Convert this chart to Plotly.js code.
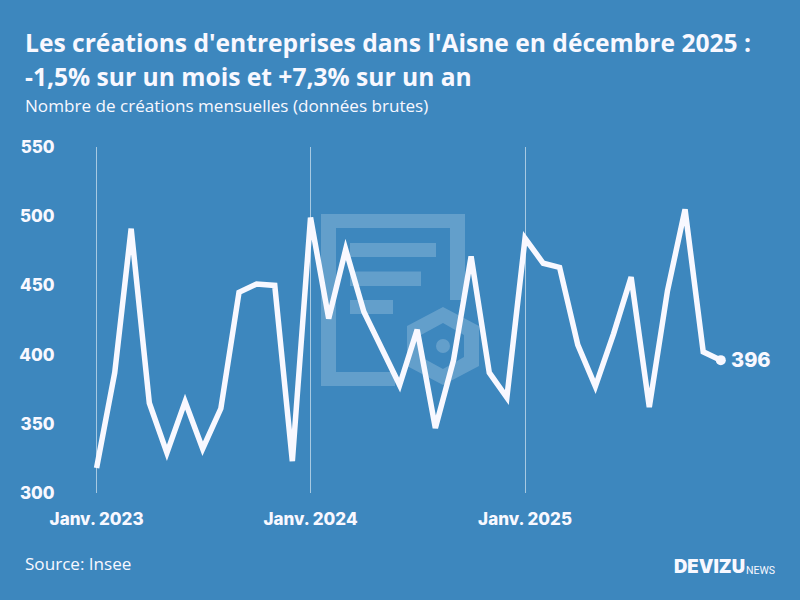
<!DOCTYPE html>
<html><head><meta charset="utf-8">
<script src="https://cdn.plot.ly/plotly-3.0.1.min.js"></script>
<style>html,body{margin:0;padding:0;background:#3d87be}
.js-line{stroke-linejoin:miter !important;stroke-miterlimit:4 !important}</style></head>
<body><div id="chart" style="width:800px;height:600px"></div>
<script>
var months = ["2023-01-01","2023-02-01","2023-03-01","2023-04-01","2023-05-01","2023-06-01","2023-07-01","2023-08-01","2023-09-01","2023-10-01","2023-11-01","2023-12-01",
"2024-01-01","2024-02-01","2024-03-01","2024-04-01","2024-05-01","2024-06-01","2024-07-01","2024-08-01","2024-09-01","2024-10-01","2024-11-01","2024-12-01",
"2025-01-01","2025-02-01","2025-03-01","2025-04-01","2025-05-01","2025-06-01","2025-07-01","2025-08-01","2025-09-01","2025-10-01","2025-11-01","2025-12-01"];
var creations = [318,387,491,365,329,366,332,361,445,451,450,323,
499,426,476,431,405,378,418,347,396,471,387,369,
484,466,463,407,377,415,456,362,446,505,402,396];
var xTicks = ["2023-01-01","2024-01-01","2025-01-01"];
var xLabels = ["Janv. 2023","Janv. 2024","Janv. 2025"];
var yTicks = [300,350,400,450,500,550];
var white = "#f8f8ff";
var ghost = "rgba(255,255,255,0.2)";
var L=62,R=780,T=147,B=493;
function px(x){return (x-L)/(R-L);}
function py(y){return (B-y)/(B-T);}
function rect(x0,y0,x1,y1){return {type:"rect",xref:"paper",yref:"paper",layer:"below",x0:px(x0),x1:px(x1),y0:py(y0),y1:py(y1),fillcolor:ghost,line:{width:0}};}
function ring(pts){return pts.map(function(p,i){return (i?"L":"M")+px(p[0]).toFixed(5)+","+py(p[1]).toFixed(5);}).join(" ")+" Z ";}
var hexOuter=[[443,307],[479,326],[479,366],[443,385],[407,366],[407,326]];
var hexInner=[[443,323],[421,335],[421,357],[443,369],[464,357],[464,335]];
var shapes=[
 rect(321,214,465,228),rect(321,228,336,372),rect(321,372,395,386),rect(450,228,465,300),
 rect(350,243,436,257),rect(350,271.5,421,286),rect(350,300,393,314),
 {type:"path",xref:"paper",yref:"paper",layer:"below",path:ring(hexOuter)+ring(hexInner),fillcolor:ghost,line:{width:0}},
 {type:"circle",xref:"paper",yref:"paper",layer:"below",x0:px(436),x1:px(450),y0:py(339),y1:py(353),fillcolor:ghost,line:{width:0}}
];
var layout={
 width:800,height:600,autosize:false,showlegend:false,
 paper_bgcolor:"#3d87be",plot_bgcolor:"rgba(0,0,0,0)",
 margin:{l:L,r:800-R,t:T,b:600-B,pad:0},
 xaxis:{type:"date",range:["2022-11-03","2026-03-12"],tickmode:"array",tickvals:xTicks,ticktext:xLabels,
   showgrid:true,gridcolor:"rgba(255,255,255,0.55)",gridwidth:1,zeroline:false,showline:false,
   ticks:"outside",ticklen:11,tickcolor:"rgba(0,0,0,0)",tickangle:0,
   tickfont:{family:"Inter",size:17,color:white,weight:800}},
 yaxis:{range:[300,550],tickmode:"array",tickvals:yTicks,showgrid:false,zeroline:false,showline:false,
   ticks:"outside",ticklen:3,tickcolor:"rgba(0,0,0,0)",tickfont:{family:"Inter",size:17,color:white,weight:800}},
 shapes:shapes,
 annotations:[
  {xref:"paper",yref:"paper",x:px(23),y:py(42),xanchor:"left",yanchor:"middle",showarrow:false,align:"left",text:"Les créations d'entreprises dans l'Aisne en décembre 2025 :",font:{family:"Open Sans",size:24.6,color:white,weight:700}},
  {xref:"paper",yref:"paper",x:px(23),y:py(76),xanchor:"left",yanchor:"middle",showarrow:false,align:"left",text:"-1,5% sur un mois et +7,3% sur un an",font:{family:"Open Sans",size:24.6,color:white,weight:700}},
  {xref:"paper",yref:"paper",x:px(23),y:py(105),xanchor:"left",yanchor:"middle",showarrow:false,text:"Nombre de créations mensuelles (données brutes)",font:{family:"Open Sans",size:17.1,color:white}},
  {xref:"paper",yref:"paper",x:px(23),y:py(563),xanchor:"left",yanchor:"middle",showarrow:false,text:"Source: Insee",font:{family:"Open Sans",size:17.1,color:white}},
  {xref:"paper",yref:"paper",x:px(672),y:py(566),xanchor:"left",yanchor:"middle",showarrow:false,text:"DEVIZU",font:{family:"Inter",size:18.5,color:white,weight:900}},
  {xref:"paper",yref:"paper",x:px(744),y:py(570),xanchor:"left",yanchor:"middle",showarrow:false,text:"NEWS",font:{family:"Roboto",size:10.5,color:white}},
  {xref:"x",yref:"y",x:months[35],y:creations[35],xanchor:"left",yanchor:"middle",xshift:8,showarrow:false,text:"396",font:{family:"Inter",size:20,color:white,weight:800}}
 ]
};
var traces=[
 {type:"scatter",mode:"lines",x:months,y:creations,line:{color:white,width:5.5,shape:"linear"},cliponaxis:false,hoverinfo:"skip"},
 {type:"scatter",mode:"markers",x:[months[35]],y:[creations[35]],marker:{color:white,size:10},cliponaxis:false,hoverinfo:"skip"}
];
Plotly.newPlot("chart",traces,layout,{displayModeBar:false,staticPlot:true});
</script></body></html>
